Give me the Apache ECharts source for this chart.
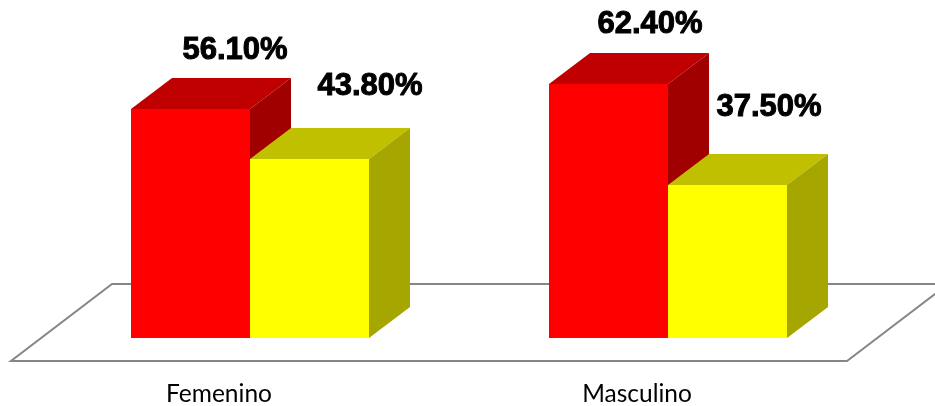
<!DOCTYPE html>
<html>
<head>
<meta charset="utf-8">
<style>html,body{margin:0;padding:0;background:#fff}#c{width:935px;height:406px}</style>
<script src="https://cdn.jsdelivr.net/npm/echarts@6/dist/echarts.min.js"></script>
</head>
<body>
<div id="c"></div>
<script>
const categories = ['Femenino', 'Masculino'];
const redValues = [56.1, 62.4];
const yellowValues = [43.8, 37.5];

const DEPTH_X = 41, DEPTH_Y = 31, BAR_W = 119;
const redLabelOffsets = [[44.5, -60], [41.5, -61]];
const yellowLabelOffsets = [[60.5, -74], [41.5, -79]];

function bar3d(values, side, colors, offsets) {
  return {
    type: 'custom',
    coordinateSystem: 'cartesian2d',
    data: values.map((v, i) => [i, v]),
    encode: { x: 0, y: 1 },
    z: 3,
    renderItem(params, api) {
      const i = api.value(0);
      const top = api.coord([i, api.value(1)]);
      const base = api.coord([i, 0]);
      const x0 = side < 0 ? top[0] - BAR_W : top[0];
      const x1 = x0 + BAR_W, yT = Math.round(top[1]), yB = Math.round(base[1]);
      const off = offsets[i];
      const poly = (pts, fill) => ({
        type: 'polygon',
        shape: { points: pts },
        style: { fill: fill, stroke: null }
      });
      return {
        type: 'group',
        children: [
          poly([[x0, yT], [x0 + DEPTH_X, yT - DEPTH_Y], [x1 + DEPTH_X, yT - DEPTH_Y], [x1, yT]], colors.top),
          poly([[x1, yT], [x1 + DEPTH_X, yT - DEPTH_Y], [x1 + DEPTH_X, yB - DEPTH_Y], [x1, yB]], colors.side),
          poly([[x0, yT], [x1, yT], [x1, yB], [x0, yB]], colors.front),
          {
            type: 'text',
            z2: 10,
            style: {
              x: (x0 + x1) / 2 + off[0],
              y: yT + off[1] + 1,
              text: api.value(1).toFixed(2) + '%',
              font: 'bold 31px "Liberation Sans"',
              fill: '#000',
              stroke: '#000',
              lineWidth: 1,
              align: 'center',
              verticalAlign: 'middle'
            }
          }
        ]
      };
    }
  };
}

const chart = echarts.init(document.getElementById('c'), null, { renderer: 'canvas' });
chart.setOption({
  animation: false,
  backgroundColor: '#fff',
  grid: { left: 41, right: 58, top: 11.76, bottom: 68, containLabel: false, outerBoundsMode: 'none' },
  xAxis: {
    type: 'category',
    data: categories,
    axisLine: { show: false },
    axisTick: { show: false },
    axisLabel: {
      fontFamily: 'Lato', fontSize: 24.5, color: '#000', margin: 56,
      verticalAlign: 'middle', padding: [0, 62, 0, 0]
    }
  },
  yAxis: { type: 'value', min: 0, max: 80, show: false, splitLine: { show: false } },
  series: [
    {
      type: 'custom',
      coordinateSystem: 'cartesian2d',
      data: [[0, 0]],
      encode: { x: 0, y: 1 },
      z: 1,
      clip: false,
      silent: true,
      renderItem(params, api) {
        const cs = params.coordSys;
        const yB = cs.y + cs.height;
        const fl = cs.x - 30, fr = cs.x + cs.width - 30, fy = yB + 23;
        const dx = 101, dy = 77;
        return {
          type: 'polygon',
          shape: { points: [[fl, fy], [fr, fy], [fr + dx, fy - dy], [fl + dx, fy - dy]] },
          style: { fill: '#fff', stroke: '#868686', lineWidth: 2 }
        };
      }
    },
    bar3d(redValues, -1, { front: '#ff0000', top: '#c00000', side: '#a00000' }, redLabelOffsets),
    bar3d(yellowValues, 1, { front: '#ffff00', top: '#c0c000', side: '#a6a600' }, yellowLabelOffsets)
  ]
});
</script>
</body>
</html>
